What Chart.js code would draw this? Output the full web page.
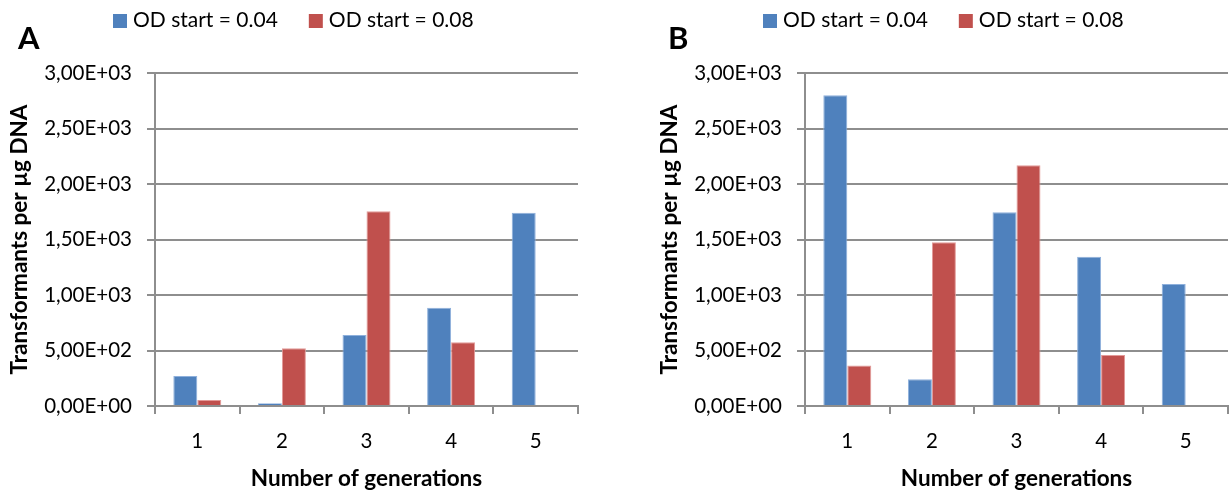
<!DOCTYPE html>
<html>
<head>
<meta charset="utf-8">
<script src="https://cdn.jsdelivr.net/npm/chart.js@4.4.0/dist/chart.umd.min.js"></script>
<style>
html, body { margin: 0; padding: 0; background: #fff; }
#wrapA { position: absolute; left: 0; top: 0; width: 650px; height: 492px; }
#wrapB { position: absolute; left: 650px; top: 0; width: 581px; height: 492px; }
</style>
</head>
<body>
<div id="wrapA"><canvas id="chartA"></canvas></div>
<div id="wrapB"><canvas id="chartB"></canvas></div>
<script>
const generations = ['1', '2', '3', '4', '5'];
const seriesNames = ['OD start = 0.04', 'OD start = 0.08'];
const panelA_od004 = [270, 25, 640, 885, 1740];
const panelA_od008 = [55, 520, 1755, 575, null];
const panelB_od004 = [2800, 240, 1745, 1345, 1100];
const panelB_od008 = [365, 1475, 2170, 460, null];
const yMin = 0;
const yMax = 3000;
const yStep = 500;

const GRID = '#8e8e8e';
const FONT = 'Lato';

function sciComma(v) {
    if (v === 0) return '0,00E+00';
    const e = Math.floor(Math.log10(v));
    const m = v / Math.pow(10, e);
    return m.toFixed(2).replace('.', ',') + 'E+' + String(e).padStart(2, '0');
}

// panel letter + legend row above the plot
const panelDecor = {
    id: 'panelDecor',
    afterDraw(chart, args, opts) {
        const ctx = chart.ctx;
        const left = chart.chartArea.left;
        ctx.save();
        ctx.fillStyle = '#000';
        ctx.font = `bold 31px ${FONT}`;
        ctx.textBaseline = 'alphabetic';
        ctx.fillText(opts.letter, left - 137, 49);

        ctx.font = `21px ${FONT}`;
        ctx.textBaseline = 'middle';
        let x = left - 42;
        chart.data.datasets.forEach(ds => {
            ctx.fillStyle = ds.backgroundColor;
            ctx.fillRect(x, 14, 14, 14);
            ctx.fillStyle = '#000';
            ctx.fillText(ds.label, x + 20, 20);
            x += 20 + ctx.measureText(ds.label).width + 31;
        });
        ctx.restore();
    }
};

function makeChart(id, letter, blue, red, rightPad) {
    const ctx = document.getElementById(id).getContext('2d');
    return new Chart(ctx, {
        type: 'bar',
        data: {
            labels: generations,
            datasets: [{
                label: seriesNames[0],
                data: blue,
                backgroundColor: '#4f81bd',
                borderColor: '#8eb0dc',
                borderWidth: 1
            }, {
                label: seriesNames[1],
                data: red,
                backgroundColor: '#c0504d',
                borderColor: '#e39a98',
                borderWidth: 1
            }]
        },
        options: {
            responsive: true,
            maintainAspectRatio: false,
            animation: false,
            layout: { padding: { left: 0, right: rightPad, top: 73, bottom: 0 } },
            categoryPercentage: 0.567,
            barPercentage: 1,
            plugins: {
                legend: { display: false },
                tooltip: { enabled: false },
                panelDecor: { letter: letter }
            },
            scales: {
                x: {
                    grid: { offset: true, drawOnChartArea: false, drawTicks: true, tickLength: 8, color: GRID, lineWidth: 2 },
                    border: { color: GRID, width: 2 },
                    ticks: { color: '#000', font: { family: FONT, size: 20.5 }, padding: 15 },
                    title: {
                        display: true,
                        text: 'Number of generations',
                        color: '#000',
                        font: { family: FONT, size: 22.5, weight: 'bold' },
                        padding: { top: 0, bottom: 0 }
                    },
                    afterFit(scale) { scale.height = 86; }
                },
                y: {
                    min: yMin,
                    max: yMax,
                    grid: { color: GRID, lineWidth: 2, tickLength: 8 },
                    border: { color: GRID, width: 2 },
                    ticks: {
                        stepSize: yStep,
                        color: '#000',
                        font: { family: FONT, size: 20.5 },
                        padding: 15,
                        callback: v => sciComma(v)
                    },
                    title: {
                        display: true,
                        text: 'Transformants per µg DNA',
                        color: '#000',
                        font: { family: FONT, size: 22.5, weight: 'bold' },
                        padding: { top: 6, bottom: 0 }
                    },
                    afterFit(scale) { scale.width = 155; }
                }
            }
        },
        plugins: [panelDecor]
    });
}

makeChart('chartA', 'A', panelA_od004, panelA_od008, 72);
makeChart('chartB', 'B', panelB_od004, panelB_od008, 3);
</script>
</body>
</html>
